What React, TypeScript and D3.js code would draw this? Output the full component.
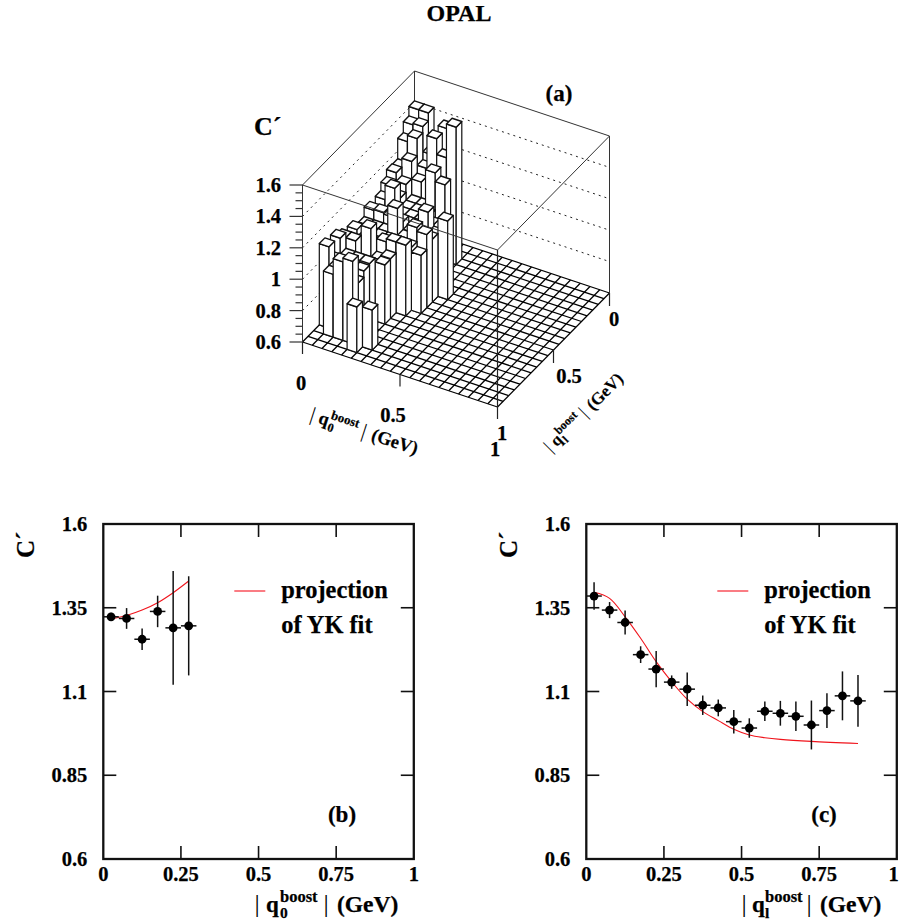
import React from "react";
import * as d3 from "d3";

const FONT = "'Liberation Serif', serif";

// lego heights, one list per ql bin, index = q0 bin, 0 = empty bin
const lego00 = [1.41, 1.41, 1.25, 1.35, 0, 0, 0, 0];
const lego01 = [1.35, 1.36, 1.2, 1.15, 0, 0, 0, 0];
const lego02 = [1.28, 1.32, 1.15, 1.36, 1.26, 1.475, 0, 0];
const lego03 = [1.15, 1.21, 1.1, 0.95, 1.1, 0, 0, 0];
const lego04 = [1.154, 1.1, 1.0, 1.0, 1.236, 1.18, 0, 0];
const lego05 = [1.11, 1.05, 1.0, 1.0, 1.0, 0.95, 0, 0];
const lego06 = [1.056, 1.148, 1.0, 1.0, 1.0, 1.0, 0, 0];
const lego07 = [1.0, 1.0, 1.0, 1.0, 1.0, 1.115, 0.99, 1.1];
const lego08 = [1.06, 1.065, 1.057, 1.05, 1.0, 1.0, 1.0, 0];
const lego09 = [1.0, 1.0, 1.0, 1.17, 1.0, 1.09, 1.066, 0];
const lego10 = [1.0, 1.0, 1.0, 1.0, 1.0, 1.0, 0.97, 0];
const lego11 = [1.046, 1.0, 1.0, 1.03, 1.05, 1.05, 0, 0];
const lego12 = [1.0, 1.0, 1.13, 0.95, 0.98, 0, 0, 0];
const lego13 = [1.067, 1.067, 0.95, 0.95, 0.976, 0, 0, 0];
const lego14 = [1.1, 1.0, 1.0, 1.0, 0, 0, 0, 0];
const lego15 = [1.0, 1.0, 0.95, 0.99, 0, 0, 0, 0];
const lego16 = [1.118, 1.0, 0.95, 0.95, 0, 0, 0, 0];
const lego17 = [0, 1.0, 1.1, 1.124, 0, 0.855, 0, 0];
const lego18 = [0, 0, 0, 0, 0.89, 0, 0, 0];
const legoRows = [lego00, lego01, lego02, lego03, lego04, lego05, lego06, lego07, lego08, lego09, lego10, lego11, lego12, lego13, lego14, lego15, lego16, lego17, lego18];

const N_BINS = 20;
const wallTicks = [0.8, 1, 1.2, 1.4];
const zLabels = ["0.6", "0.8", "1", "1.2", "1.4", "1.6"];
const zLabelValues = [0.6, 0.8, 1, 1.2, 1.4, 1.6];
const zMinor = d3.range(0.6, 1.6001, 0.05);

// panel (b)
const q0X = [0.025, 0.075, 0.125, 0.175, 0.225, 0.275];
const q0C = [1.323, 1.318, 1.256, 1.339, 1.29, 1.296];
const q0Err = [0.012, 0.031, 0.032, 0.047, 0.17, 0.148];
const q0Fit = [1.317, 1.327, 1.343, 1.365, 1.395, 1.43];

// panel (c)
const qlX = [0.025, 0.075, 0.125, 0.175, 0.225, 0.275, 0.325, 0.375, 0.425, 0.475, 0.525, 0.575, 0.625, 0.675, 0.725, 0.775, 0.825, 0.875];
const qlC = [1.385, 1.343, 1.306, 1.21, 1.167, 1.128, 1.107, 1.059, 1.051, 1.01, 0.991, 1.041, 1.035, 1.026, 1.0, 1.043, 1.087, 1.072];
const qlErr = [0.041, 0.024, 0.036, 0.025, 0.054, 0.02, 0.05, 0.029, 0.025, 0.035, 0.029, 0.029, 0.037, 0.044, 0.073, 0.052, 0.073, 0.077];
const qlFitX = [0.025, 0.075, 0.125, 0.175, 0.225, 0.275, 0.325, 0.375, 0.425, 0.475, 0.525, 0.575, 0.625, 0.725, 0.875];
const qlFit = [1.396, 1.378, 1.323, 1.259, 1.189, 1.129, 1.077, 1.04, 1.013, 0.987, 0.97, 0.962, 0.957, 0.951, 0.945];

const xTicks = [0, 0.25, 0.5, 0.75, 1];
const xTickLabels = ["0", "0.25", "0.5", "0.75", "1"];
const yTicks = [0.6, 0.85, 1.1, 1.35, 1.6];
const yTickLabels = ["0.6", "0.85", "1.1", "1.35", "1.6"];

// 3d projection, back corner of the floor is q0=0, ql=0
const BACK = [414.5, 228];
const qDX = d3.scaleLinear().domain([0, 1]).range([0, 195]);
const qDY = d3.scaleLinear().domain([0, 1]).range([0, 65]);
const lDX = d3.scaleLinear().domain([0, 1]).range([0, -112]);
const lDY = d3.scaleLinear().domain([0, 1]).range([0, 114]);
const zDY = d3.scaleLinear().domain([0.6, 1.6]).range([0, -157]);

const proj = (q: number, l: number, z: number): [number, number] => [
  BACK[0] + qDX(q) + lDX(l),
  BACK[1] + qDY(q) + lDY(l) + zDY(z),
];
const path3 = (pts: [number, number, number][], close = false) =>
  d3.line()(pts.map((p) => proj(p[0], p[1], p[2]))) + (close ? "Z" : "");

// heavier text, the original is a scan-like bitmap
const INK = { stroke: "#000", strokeWidth: 0.25 };

const Lego = () => {
  const bw = 1 / N_BINS;
  const bars: { i: number; j: number; c: number }[] = [];
  legoRows.forEach((row, j) =>
    row.forEach((c, i) => {
      if (c > 0) bars.push({ i, j, c });
    })
  );
  // back to front
  bars.sort((a, b) => a.i + a.j - (b.i + b.j));
  const Z0 = 0.6;
  const Z1 = 1.6;
  const edge = "#111";
  return (
    <g fontFamily={FONT} fontWeight="bold">
      {/* floor */}
      {d3.range(0, N_BINS + 1).map((k) => (
        <g key={k} stroke="#000" strokeWidth={1.25}>
          <path d={path3([[k * bw, 0, Z0], [k * bw, 1, Z0]])} />
          <path d={path3([[0, k * bw, Z0], [1, k * bw, Z0]])} />
        </g>
      ))}
      {/* back walls */}
      <path d={path3([[0, 1, Z1], [0, 0, Z1], [1, 0, Z1]])} fill="none" stroke="#333" />
      <path d={path3([[0, 0, Z0], [0, 0, Z1]])} stroke="#333" />
      {wallTicks.map((z) => (
        <path key={z} d={path3([[0, 1, z], [0, 0, z], [1, 0, z]])} fill="none" stroke="#222" strokeDasharray="2 4" />
      ))}
      {/* bars */}
      {bars.map(({ i, j, c }) => {
        const q0 = i * bw;
        const q1 = q0 + bw;
        const l0 = j * bw;
        const l1 = l0 + bw;
        return (
          <g key={`${i}-${j}`} fill="#fff" stroke={edge} strokeWidth={1.2} strokeLinejoin="round">
            <path d={path3([[q0, l1, Z0], [q1, l1, Z0], [q1, l1, c], [q0, l1, c]], true)} />
            <path d={path3([[q1, l1, Z0], [q1, l0, Z0], [q1, l0, c], [q1, l1, c]], true)} />
            <path d={path3([[q0, l0, c], [q1, l0, c], [q1, l1, c], [q0, l1, c]], true)} strokeWidth={1.4} />
          </g>
        );
      })}
      {/* front box edges */}
      <path d={path3([[0, 1, Z0], [0, 1, Z1], [1, 1, Z1], [1, 0, Z1], [1, 0, Z0]])} fill="none" stroke="#333" />
      <path d={path3([[1, 1, Z0], [1, 1, Z1]])} stroke="#222" strokeWidth={1.2} />
      {/* z axis */}
      {zMinor.map((z) => {
        const [x, y] = proj(0, 1, z);
        const major = zLabelValues.some((v) => Math.abs(v - z) < 1e-6);
        return <line key={z} x1={x} x2={x - (major ? 13 : 7)} y1={y} y2={y} stroke="#333" strokeWidth={1.2} />;
      })}
      {zLabelValues.map((z, k) => {
        const [x, y] = proj(0, 1, z);
        return (
          <text key={z} x={x - 21.5} y={y + 7} textAnchor="end" fontSize={20.5} {...INK}>
            {zLabels[k]}
          </text>
        );
      })}
      {/* floor axes ticks */}
      {[0, 0.5, 1].map((q) => {
        const [x, y] = proj(q, 1, Z0);
        return <line key={q} x1={x} x2={x} y1={y} y2={y + 12} stroke="#222" strokeWidth={1.2} />;
      })}
      {[0, 0.5].map((l) => {
        const [x, y] = proj(1, l, Z0);
        return <line key={l} x1={x} x2={x} y1={y} y2={y + 13} stroke="#222" strokeWidth={1.2} />;
      })}
      <g fontSize={20.5} textAnchor="middle" {...INK}>
        <text x={301} y={390}>0</text>
        <text x={393} y={422}>0.5</text>
        <text x={495} y={456}>1</text>
        <text x={502} y={440}>1</text>
        <text x={614} y={326}>0</text>
        <text x={569} y={383}>0.5</text>
      </g>
      <text x={254} y={135} fontSize={26} {...INK}>C´</text>
      <text x={559} y={101} textAnchor="middle" fontSize={23} {...INK}>(a)</text>
      <g transform="translate(309,420) rotate(18) scale(0.78)">
        <BoostLabel sub="0" />
      </g>
      <g transform="translate(551,453) rotate(-45) scale(0.72)">
        <BoostLabel sub="l" />
      </g>
    </g>
  );
};

// narrow: panel (c) sets the sup and the closing bar slightly tighter
const BoostLabel = ({ sub, narrow = 0 }: { sub: string; narrow?: number }) => (
  <g fontFamily={FONT} fontWeight="bold" fill="#000">
    <text x={0} y={0} fontSize={26} fontWeight="normal">|</text>
    <text x={11.5 - narrow / 4} y={0} fontSize={23} {...INK}>q</text>
    <text x={25.5 - narrow / 2} y={-10} fontSize={16.5} {...INK}>boost</text>
    <text x={25.5 - narrow / 2} y={6} fontSize={15.5} {...INK}>{sub}</text>
    <text x={69 - narrow} y={0} fontSize={26} fontWeight="normal">|</text>
    <text x={82.5 - narrow} y={0} fontSize={23.5} {...INK}>(GeV)</text>
  </g>
);

type PanelProps = {
  left: number;
  px: number[];
  py: number[];
  pe: number[];
  fitX: number[];
  fitY: number[];
  tag: string;
  sub: string;
  labelX: number;
  narrow?: number;
  tagX: number;
};

const W = 310.5;

const Panel = ({ left, px, py, pe, fitX, fitY, tag, sub, labelX, narrow = 0, tagX }: PanelProps) => {
  const x = d3.scaleLinear().domain([0, 1]).range([left, left + W]);
  const y = d3.scaleLinear().domain([0.6, 1.6]).range([859, 524]);
  const fit = d3
    .line<number>()
    .x((_, i) => x(fitX[i]))
    .y((d) => y(d))
    .curve(d3.curveCatmullRom.alpha(0.5));
  const TICK = 13;
  return (
    <g fontFamily={FONT} fontWeight="bold" fill="#000">
      <rect x={x(0)} y={y(1.6)} width={W} height={335} fill="none" stroke="#111" strokeWidth={2.3} />
      {yTicks.slice(1, -1).map((t) => (
        <g key={t} stroke="#111" strokeWidth={1.6}>
          <line x1={x(0)} x2={x(0) + TICK} y1={y(t)} y2={y(t)} />
          <line x1={x(1)} x2={x(1) - TICK} y1={y(t)} y2={y(t)} />
        </g>
      ))}
      {xTicks.slice(1, -1).map((t) => (
        <g key={t} stroke="#111" strokeWidth={1.6}>
          <line x1={x(t)} x2={x(t)} y1={y(0.6)} y2={y(0.6) - TICK} />
          <line x1={x(t)} x2={x(t)} y1={y(1.6)} y2={y(1.6) + TICK} />
        </g>
      ))}
      {yTicks.map((t, i) => (
        <text key={t} x={x(0) - 16} y={y(t) + 7} textAnchor="end" fontSize={20.5} {...INK}>
          {yTickLabels[i]}
        </text>
      ))}
      {xTicks.map((t, i) => (
        // the last label of panel (c) sits on the page edge, keep it inside
        <text key={t} x={Math.min(x(t), 893.5)} y={881} textAnchor="middle" fontSize={20.5} {...INK}>
          {xTickLabels[i]}
        </text>
      ))}
      <path d={fit(fitY) ?? ""} fill="none" stroke="#f0141c" strokeWidth={1.1} />
      {px.map((v, i) => (
        <g key={v}>
          <line x1={x(v)} x2={x(v)} y1={y(py[i] - pe[i])} y2={y(py[i] + pe[i])} stroke="#111" strokeWidth={1.5} />
          <line x1={x(v - 0.025)} x2={x(v + 0.025)} y1={y(py[i])} y2={y(py[i])} stroke="#111" strokeWidth={1.5} />
          <circle cx={x(v)} cy={y(py[i])} r={4.4} fill="#000" />
        </g>
      ))}
      <line x1={x(0) + 131} x2={x(0) + 162} y1={591} y2={591} stroke="#f8505a" strokeWidth={1.5} />
      <text x={x(0) + 178} y={598} fontSize={24.4} {...INK}>projection</text>
      <text x={x(0) + 178} y={633} fontSize={24.4} {...INK}>of YK fit</text>
      <text x={tagX} y={822} textAnchor="middle" fontSize={23} {...INK}>{tag}</text>
      <text transform={`translate(${x(0) - 69},558) rotate(-90)`} fontSize={25} {...INK}>C´</text>
      <g transform={`translate(${labelX},912)`}>
        <BoostLabel sub={sub} narrow={narrow} />
      </g>
    </g>
  );
};

export default function App() {
  return (
    <svg width={899} height={922} style={{ position: "absolute", left: 0, top: 0, background: "#fff" }}>
      <text x={459} y={21} textAnchor="middle" fontFamily={FONT} fontWeight="bold" fontSize={24} {...INK}>OPAL</text>
      <Lego />
      <Panel left={103.3} px={q0X} py={q0C} pe={q0Err} fitX={q0X} fitY={q0Fit} tag="(b)" sub="0" labelX={254.5} tagX={342} />
      <Panel left={586.3} px={qlX} py={qlC} pe={qlErr} fitX={qlFitX} fitY={qlFit} tag="(c)" sub="l" labelX={741.5} narrow={4} tagX={824} />
    </svg>
  );
}
